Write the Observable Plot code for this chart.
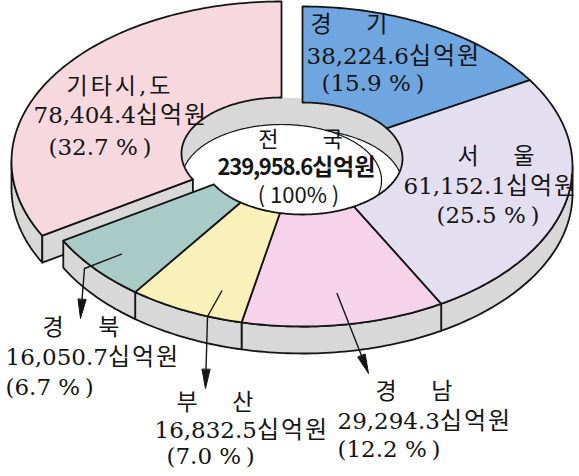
<!DOCTYPE html>
<html><head><meta charset="utf-8">
<script src="https://cdn.jsdelivr.net/npm/d3@7"></script>
<script src="https://cdn.jsdelivr.net/npm/@observablehq/plot@0.6"></script>
<style>body{margin:0;background:#fff}</style>
</head><body><div id="chart"></div>
<script>
// ---- data ----
const regions = ["경기", "서울", "경남", "부산", "경북", "기타시,도"];
const values = [38224.6, 61152.1, 29294.3, 16832.5, 16050.7, 78404.4];
const shares = [15.9, 25.5, 12.2, 7.0, 6.7, 32.7];
const totalName = "전국";
const totalValue = 239958.6;
const totalShare = 100;
const unit = "십억원";
const explodedRegion = "기타시,도";

// ---- styles / layout (not data) ----
const colors = ["#6fa6e0", "#e3dff1", "#f6d3ea", "#faf0b9", "#a9cbc8", "#f6d8de"];
const wallColor = "#d8d8d8";
const G = {cx: 302, cy: 166, rx: 270, ry: 160, icx: 302, icy: 158, irx: 100, iry: 56, depth: 27, ex: -21, ey: -5};
const W = 579, H = 476;
const labelPos = {
  "경기": {name: [310, 24], value: [306, 56], pct: [321, 83]},
  "서울": {name: [457, 156], value: [403, 186], pct: [436, 215]},
  "경남": {name: [375, 391], value: [337, 421], pct: [337, 449]},
  "부산": {name: [176, 402], value: [154, 430], pct: [166, 456]},
  "경북": {name: [42, 327], value: [5, 357], pct: [5, 387]},
  "기타시,도": {name: [66, 86], value: [33, 115], pct: [48, 147]}
};
const centerPos = {name: [300, 139], value: [296, 167], pct: [298, 195]};
const leaders = [
  {region: "경북", f: 0.49, t: 0.8, elbow: [84, 268], tip: [80, 318]},
  {region: "부산", f: 0.3, t: 0.76, elbow: [207, 316], tip: [205, 388]},
  {region: "경남", f: 0.5, t: 0.72, elbow: null, tip: [368, 373]}
];

// ---- geometry ----
const pie = d3.pie().sort(null).value(d => d)(values);
const slices = regions.map((r, i) => ({region: r, value: values[i], share: shares[i], color: colors[i],
  a0: pie[i].startAngle, a1: pie[i].endAngle, exploded: r === explodedRegion}));

function pt(ring, a, off = [0, 0], dz = 0) {
  const g = ring === "outer" ? [G.cx, G.cy, G.rx, G.ry] : [G.icx, G.icy, G.irx, G.iry];
  return [g[0] + g[2] * Math.sin(a) + off[0], g[1] - g[3] * Math.cos(a) + off[1] + dz];
}
function arc(ring, a0, a1, off, dz) {
  const n = Math.max(2, Math.ceil(Math.abs(a1 - a0) / (Math.PI / 180)));
  return d3.range(n + 1).map(k => pt(ring, a0 + (a1 - a0) * k / n, off, dz));
}
const polys = [];
function add(id, layer, color, pts) { polys.push({id, layer, color, pts}); }

// hole
const offE = [G.ex, G.ey];
add("holeA", "holeGray", wallColor, arc("inner", 0, 2 * Math.PI, [0, 0], 0));
add("holeB", "holeGray", wallColor, arc("inner", 0, 2 * Math.PI, offE, 0));
add("floorA", "holeWhite", "#ffffff", arc("inner", 0, 2 * Math.PI, [0, 0], G.depth));
add("floorB", "holeWhite", "#ffffff", arc("inner", 0, 2 * Math.PI, offE, G.depth));

for (const s of slices) {
  const off = s.exploded ? offE : [0, 0];
  const pre = s.exploded ? "ex" : "";
  const b0 = Math.max(s.a0, Math.PI / 2), b1 = Math.min(s.a1, 3 * Math.PI / 2);
  if (b1 > b0) {
    add(s.region + "-wall", pre + "wall", wallColor,
      [...arc("outer", b0, b1, off, 0), ...arc("outer", b1, b0, off, G.depth)]);
  }
  if (s.exploded) {
    const o = pt("outer", s.a0, off), n = pt("inner", s.a0, off);
    add(s.region + "-cut", "excut", wallColor, [o, n, [n[0], n[1] + G.depth], [o[0], o[1] + G.depth]]);
  }
  add(s.region + "-top", pre + "top", s.color,
    [...arc("outer", s.a0, s.a1, off, 0), ...arc("inner", s.a1, s.a0, off, 0)]);
}
const rows = polys.flatMap(p => p.pts.map(([x, y]) => ({id: p.id, layer: p.layer, color: p.color, x, y})));
const layer = name => rows.filter(d => d.layer === name);

// leaders
const leaderRows = [], headRows = [];
for (const L of leaders) {
  const s = slices.find(d => d.region === L.region);
  const a = s.a0 + (s.a1 - s.a0) * L.f;
  const pi = pt("inner", a), po = pt("outer", a);
  const start = [pi[0] + (po[0] - pi[0]) * L.t, pi[1] + (po[1] - pi[1]) * L.t];
  const path = [start];
  if (L.elbow) path.push(L.elbow);
  const prev = path[path.length - 1];
  const dx = L.tip[0] - prev[0], dy = L.tip[1] - prev[1], len = Math.hypot(dx, dy);
  const ux = dx / len, uy = dy / len, hl = 19, hw = 4;
  const base = [L.tip[0] - ux * hl, L.tip[1] - uy * hl];
  path.push(base);
  path.forEach(([x, y]) => leaderRows.push({id: L.region, x, y}));
  [[base[0] - uy * hw, base[1] + ux * hw], L.tip, [base[0] + uy * hw, base[1] - ux * hw]]
    .forEach(([x, y]) => headRows.push({id: L.region, x, y}));
}

// labels
const fmt = d3.format(",.1f");
const spaced = n => n.length === 2 ? n.split("").join("\u3000\u2002") : n;
const labelRows = [];
for (const s of slices) {
  const p = labelPos[s.region];
  labelRows.push({x: p.name[0], y: p.name[1], text: spaced(s.region)});
  labelRows.push({x: p.value[0], y: p.value[1], text: fmt(s.value) + unit});
  labelRows.push({x: p.pct[0], y: p.pct[1], text: "(" + s.share.toFixed(1) + " %\u2009)"});
}
const centerName = [{x: centerPos.name[0], y: centerPos.name[1], text: totalName.split("").join("\u3000\u3000")}];
const centerValue = [{x: centerPos.value[0], y: centerPos.value[1], text: fmt(totalValue) + unit}];
const centerPct = [{x: centerPos.pct[0], y: centerPos.pct[1], text: "( " + totalShare + "% )"}];

const serif = "'DejaVu Serif', 'Noto Sans CJK KR', serif";
const sans = "'Noto Sans CJK KR', 'DejaVu Sans', sans-serif";
const poly = (data, opts = {}) => Plot.line(data, {x: "x", y: "y", z: "id", fill: "color",
  stroke: "#151515", strokeWidth: 1.8, strokeLinejoin: "round", curve: "linear-closed", ...opts});

const chart = Plot.plot({
  width: W, height: H, margin: 0,
  x: {domain: [0, W], range: [0, W], axis: null},
  y: {domain: [0, H], range: [0, H], axis: null},
  color: {type: "identity"},
  style: {background: "#fff"},
  marks: [
    poly(layer("holeGray"), {stroke: "none"}),
    poly(layer("holeWhite"), {strokeWidth: 1.2}),
    poly(layer("exwall")),
    poly(layer("excut")),
    poly(layer("extop")),
    poly(layer("wall")),
    poly(layer("top")),
    Plot.line(leaderRows, {x: "x", y: "y", z: "id", stroke: "#151515", strokeWidth: 1.4}),
    Plot.line(headRows, {x: "x", y: "y", z: "id", fill: "#151515", stroke: "#151515", strokeWidth: 1, curve: "linear-closed"}),
    Plot.text(labelRows, {x: "x", y: "y", text: "text", textAnchor: "start", fontSize: 23, fontFamily: serif, fill: "#141414"}),
    Plot.text(centerName, {x: "x", y: "y", text: "text", textAnchor: "middle", fontSize: 22, fontFamily: sans, fill: "#141414"}),
    Plot.text(centerValue, {x: "x", y: "y", text: "text", textAnchor: "middle", fontSize: 22, fontFamily: sans, fontWeight: "bold", fill: "#141414"}),
    Plot.text(centerPct, {x: "x", y: "y", text: "text", textAnchor: "middle", fontSize: 22, fontFamily: sans, fill: "#141414"})
  ]
});
// typographic refinement: wider Hangul unit, tighter bold centre figure
d3.select(chart).selectAll("text").each(function () {
  const t = this.textContent;
  const sel = d3.select(this);
  if (t.endsWith(unit)) {
    const num = t.slice(0, -unit.length);
    const bold = sel.attr("font-weight") === "bold" || this.closest("g").getAttribute("font-weight") === "bold";
    this.textContent = "";
    sel.append("tspan").attr("letter-spacing", bold ? -1.2 : 0).text(num);
    sel.append("tspan").attr("font-size", bold ? 23 : 24).attr("letter-spacing", bold ? 0 : 2).text(unit);
  } else if (t === explodedRegion) {
    sel.attr("letter-spacing", 3);
  }
});
document.getElementById("chart").appendChild(chart);
</script>
</body></html>
